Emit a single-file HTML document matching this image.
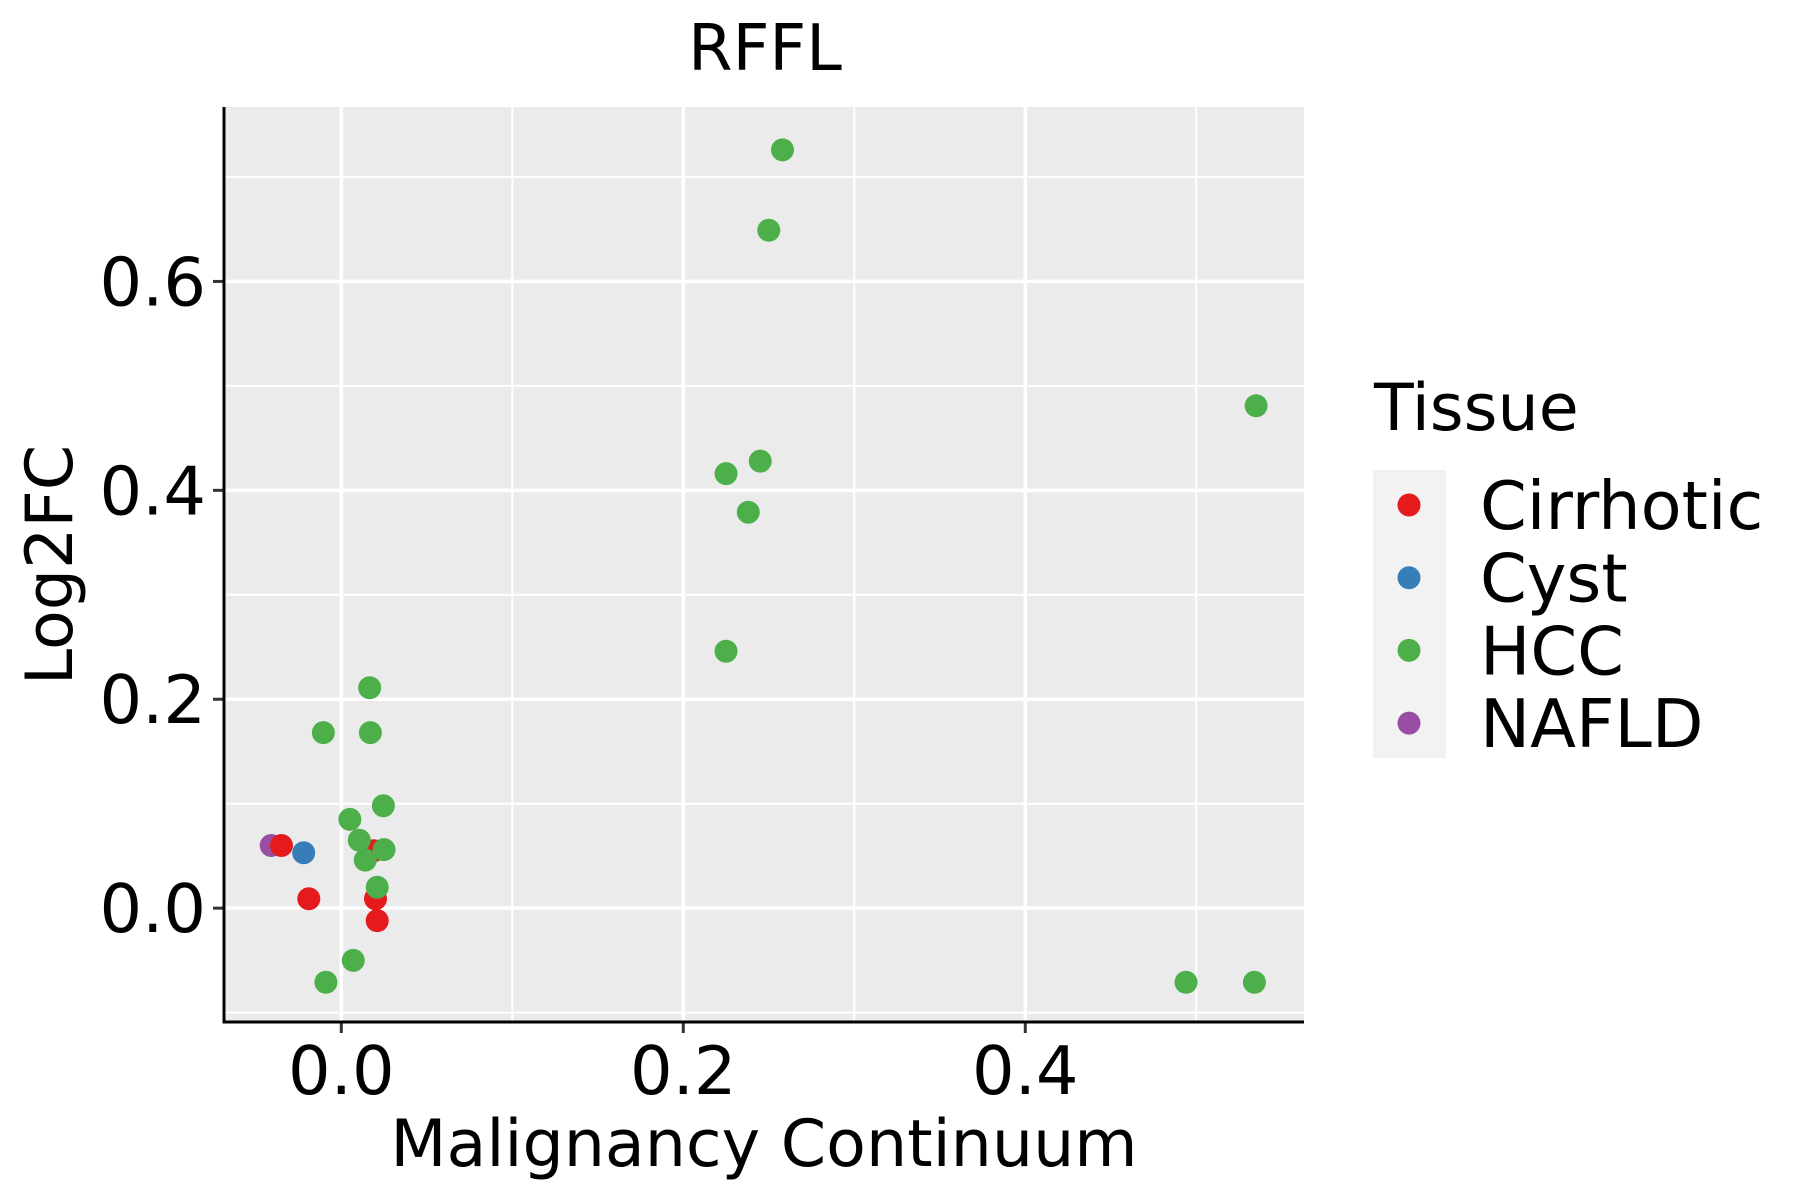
<!DOCTYPE html>
<html><head><meta charset="utf-8"><style>
html,body{margin:0;padding:0;background:#fff;}
svg{display:block;font-family:"DejaVu Sans","Liberation Sans",sans-serif;}
</style></head><body>
<svg id="chart" width="1800" height="1200" viewBox="0 0 1800 1200">
<rect width="1800" height="1200" fill="#fff"/>
<text x="765" y="70" font-size="64" text-anchor="middle">RFFL</text>
<rect x="224" y="107" width="1080" height="915" fill="#ebebeb"/>
<g id="grid"></g><g id="pts"></g><g id="axes"></g>
<text x="764" y="1166" font-size="65" text-anchor="middle">Malignancy Continuum</text>
<text transform="translate(72,565) rotate(-90)" font-size="65" text-anchor="middle">Log2FC</text>
<text x="1374" y="430" font-size="65">Tissue</text>
<rect x="1373" y="470" width="73" height="288" fill="#f2f2f2"/>
<g id="legend"></g>
</svg>
<script>
const catX=[-0.041,-0.035,-0.019,0.019,0.020,0.021,-0.022,0.258,0.250,0.535,0.225,0.245,0.238,0.225,0.0166,-0.0105,0.017,0.0246,0.005,0.0105,0.025,0.014,0.021,0.007,-0.009,0.494,0.534];
const valY=[0.060,0.060,0.009,0.055,0.009,-0.012,0.053,0.726,0.649,0.481,0.416,0.428,0.379,0.246,0.211,0.168,0.168,0.098,0.085,0.065,0.056,0.046,0.020,-0.050,-0.071,-0.071,-0.071];
const groups=["NAFLD","Cirrhotic","Cirrhotic","Cirrhotic","Cirrhotic","Cirrhotic","Cyst","HCC","HCC","HCC","HCC","HCC","HCC","HCC","HCC","HCC","HCC","HCC","HCC","HCC","HCC","HCC","HCC","HCC","HCC","HCC","HCC"];
const xTicks=[0.0,0.2,0.4];
const yTicks=[0.0,0.2,0.4,0.6];
const legendLabels=["Cirrhotic","Cyst","HCC","NAFLD"];
const colors={Cirrhotic:"#e41a1c",Cyst:"#377eb8",HCC:"#4daf4a",NAFLD:"#984ea3"};
const L=224,R=1304,T=107,B=1022;
const x0=-0.0686,x1=0.563,y0=-0.109,y1=0.767;
const sx=v=>L+(v-x0)/(x1-x0)*(R-L);
const sy=v=>B-(v-y0)/(y1-y0)*(B-T);
const NS="http://www.w3.org/2000/svg";
function mk(tag,attrs,parent){const e=document.createElementNS(NS,tag);for(const k in attrs)e.setAttribute(k,attrs[k]);parent.appendChild(e);return e;}
const grid=document.getElementById('grid'),axes=document.getElementById('axes'),pts=document.getElementById('pts'),leg=document.getElementById('legend');
[0.1,0.3,0.5].forEach(v=>{const l=mk('line',{x1:sx(v),x2:sx(v),y1:T,y2:B,stroke:'#fff','stroke-width':2},grid);

});
[-0.1,0.1,0.3,0.5,0.7].forEach(v=>{const l=mk('line',{x1:L,x2:R,y1:sy(v),y2:sy(v),stroke:'#fff','stroke-width':2},grid);

});
xTicks.forEach(v=>{const l=mk('line',{x1:sx(v),x2:sx(v),y1:T,y2:B,stroke:'#fff','stroke-width':3.5},grid);


const t=mk('line',{x1:sx(v),x2:sx(v),y1:B,y2:B+11,stroke:'#333','stroke-width':3},axes);


const tx=mk('text',{x:sx(v),y:1094,'font-size':67,'text-anchor':'middle',fill:'#000'},axes);tx.textContent=v.toFixed(1);

});
yTicks.forEach(v=>{const l=mk('line',{x1:L,x2:R,y1:sy(v),y2:sy(v),stroke:'#fff','stroke-width':3.5},grid);


const t=mk('line',{x1:L-11,x2:L,y1:sy(v),y2:sy(v),stroke:'#333','stroke-width':3},axes);


const tx=mk('text',{x:206,y:sy(v)+24,'font-size':67,'text-anchor':'end',fill:'#000'},axes);tx.textContent=v.toFixed(1);

});
const xa=mk('line',{x1:L,x2:R,y1:B,y2:B,stroke:'#000','stroke-width':3},axes);


const ya=mk('line',{x1:L,x2:L,y1:T,y2:B+1.5,stroke:'#000','stroke-width':3},axes);


catX.forEach((v,i)=>{const c=mk('circle',{cx:sx(v),cy:sy(valY[i]),r:11.5,fill:colors[groups[i]]},pts);

});
legendLabels.forEach((g,i)=>{const y=505+i*72.7;
const c=mk('circle',{cx:1409,cy:y,r:11.5,fill:colors[g]},leg);


const t=mk('text',{x:1480,y:y+24,'font-size':67,fill:'#000'},leg);t.textContent=g;

});
</script>
</body></html>
